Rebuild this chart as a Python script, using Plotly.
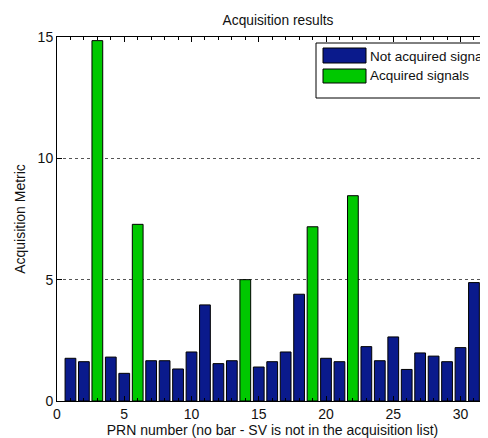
import plotly.graph_objects as go

# ---- data ----
prn = list(range(1, 33))
metric = [1.76, 1.62, 14.85, 1.81, 1.14, 7.28, 1.66, 1.66, 1.32, 2.02, 3.96, 1.54,
          1.66, 5.00, 1.40, 1.62, 2.02, 4.40, 7.18, 1.76, 1.62, 8.46, 2.24, 1.66,
          2.64, 1.30, 1.98, 1.85, 1.62, 2.20, 4.88, 3.34]
acquired_prn = [3, 6, 14, 19, 22]
x_ticks = [0, 5, 10, 15, 20, 25, 30]
y_ticks = [0, 5, 10, 15]
legend_labels = ["Not acquired signals", "Acquired signals"]

BLUE = "#0a1a8c"
GREEN = "#00c800"
FONT = "Liberation Sans, Arial, sans-serif"
TXT = "#111"

OFF = 8  # page body margin
W, H = 488 - OFF, 438 - OFF
ML, MR, MT, MB = 57 - OFF, 0, 37 - OFF, 438 - 401
pw = W - ML - MR
ph = H - MT - MB

not_x = [p for p in prn if p not in acquired_prn]
not_y = [metric[p - 1] for p in not_x]
acq_x = [p for p in prn if p in acquired_prn]
acq_y = [metric[p - 1] for p in acq_x]

fig = go.Figure()
fig.add_trace(go.Bar(x=not_x, y=not_y, width=0.8, marker=dict(color=BLUE, line=dict(color="black", width=1)),
                     name=legend_labels[0], showlegend=False))
fig.add_trace(go.Bar(x=acq_x, y=acq_y, width=0.8, marker=dict(color=GREEN, line=dict(color="black", width=1)),
                     name=legend_labels[1], showlegend=False))


def px(x):
    return (x - OFF - ML) / pw


def py(y):
    return (H - MB - (y - OFF)) / ph


# custom legend (box extends beyond visible area like the reference crop)
fig.add_shape(type="rect", xref="paper", yref="paper", x0=px(316), x1=px(560), y0=py(98), y1=py(43),
              line=dict(color="black", width=1), fillcolor="white", layer="above")
fig.add_shape(type="rect", xref="paper", yref="paper", x0=px(323), x1=px(366), y0=py(63), y1=py(48),
              line=dict(color="black", width=1), fillcolor=BLUE, layer="above")
fig.add_shape(type="rect", xref="paper", yref="paper", x0=px(323), x1=px(366), y0=py(83), y1=py(69),
              line=dict(color="black", width=1), fillcolor=GREEN, layer="above")
fig.add_annotation(xref="paper", yref="paper", x=px(368), y=py(56), text=legend_labels[0], showarrow=False,
                   xanchor="left", yanchor="middle", font=dict(family=FONT, size=13.5, color=TXT))
fig.add_annotation(xref="paper", yref="paper", x=px(368), y=py(76), text=legend_labels[1], showarrow=False,
                   xanchor="left", yanchor="middle", font=dict(family=FONT, size=13.5, color=TXT))

fig.update_layout(
    width=W, height=H,
    margin=dict(l=ML, r=MR, t=MT, b=MB),
    plot_bgcolor="white", paper_bgcolor="white",
    barmode="overlay",
    font=dict(family=FONT, size=14, color=TXT),
    title=dict(text="Acquisition results", x=(278 - OFF) / W, xanchor="center", xref="container",
               y=1 - (20 - OFF) / H, yanchor="middle", font=dict(family=FONT, size=13.75, color=TXT)),
    xaxis=dict(range=[0, (488 - 57) / 13.45], tickvals=x_ticks, ticks="inside", ticklen=5,
               tickcolor="black", showline=True, linecolor="black", linewidth=1, mirror="ticks",
               showgrid=False, zeroline=False, tickfont=dict(size=14),
               minor=dict(dtick=1, ticks="inside", ticklen=3, tickcolor="black", showgrid=False),
               title=dict(text="PRN number (no bar - SV is not in the acquisition list)", standoff=2,
                          font=dict(family=FONT, size=14, color=TXT))),
    yaxis=dict(range=[0, 15], tickvals=y_ticks, ticks="inside", ticklen=5, tickcolor="black",
               showline=True, linecolor="black", linewidth=1, mirror=False, tickfont=dict(size=14),
               showgrid=True, gridcolor="#555", griddash="dot", gridwidth=1, zeroline=False,
               title=dict(text="Acquisition Metric", standoff=8,
                          font=dict(family=FONT, size=14, color=TXT))),
)

fig.write_html("out.html")
